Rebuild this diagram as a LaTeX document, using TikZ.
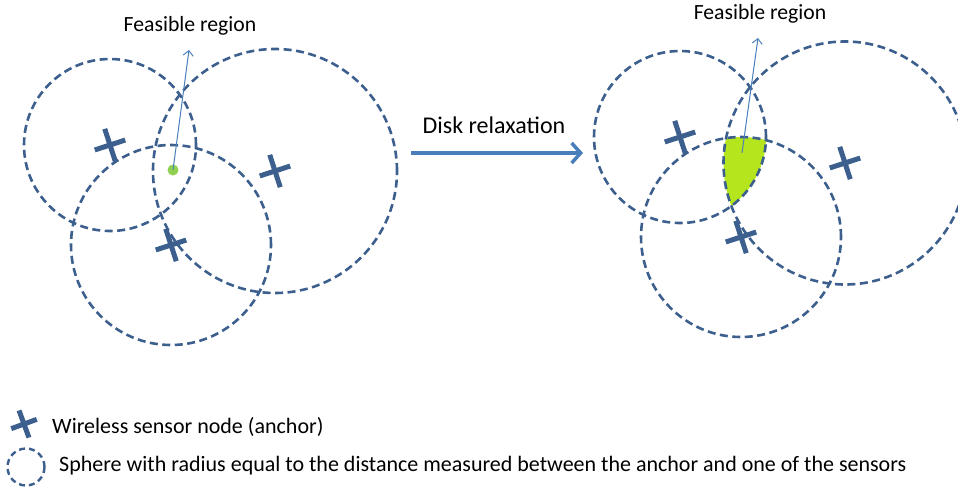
\documentclass[tikz,border=0pt]{standalone}
\usepackage{fontspec}
\setmainfont{Carlito}
\usetikzlibrary{arrows.meta}
\definecolor{ringblue}{HTML}{3C5F8D}
\definecolor{arrowblue}{HTML}{4A7EBB}
\definecolor{dotgreen}{HTML}{92D050}
\definecolor{regiongreen}{HTML}{B5E61D}
\begin{document}
\begin{tikzpicture}[x=1pt,y=-1pt,
  ring/.style={draw=ringblue, line width=2.6pt, dash pattern=on 8pt off 4.5pt},
  lbl/.style={font=\fontsize{21.7}{25}\selectfont, inner sep=0pt, anchor=base},
  legendtxt/.style={font=\fontsize{22}{26}\selectfont, inner sep=0pt, anchor=base west},
  pointer/.style={draw=arrowblue, line width=1pt, -{Straight Barb[length=5pt,width=10pt]}},
  bigarrow/.style={draw=arrowblue, line width=3.5pt, -{Straight Barb[length=9pt,width=20pt]}},
  anchormark/.pic={\draw[ringblue, line width=5pt] (-16,0) -- (16,0) (0,-17) -- (0,17);}
]
\useasboundingbox (0,0) rectangle (958,488);

% ---- before relaxation: anchors and their range circles
\coordinate (a1) at (110,145);
\coordinate (a2) at (275,171);
\coordinate (a3) at (171,245);
\draw[ring] (a1) circle[radius=86pt];
\draw[ring] (a2) circle[radius=122pt];
\draw[ring] (a3) circle[radius=100pt];
\pic[rotate=18] at (a1) {anchormark};
\pic[rotate=18] at (a2) {anchormark};
\pic[rotate=18] at (a3) {anchormark};
\node[circle, fill=dotgreen, inner sep=0pt, minimum size=11pt] (dot) at (173,170) {};
\node[lbl] (fl) at (190,31) {Feasible region};
\coordinate (fltip) at (189,50);
\draw[pointer] (dot.center) -- (fltip);

% ---- relaxation arrow
\node[lbl, font=\fontsize{24}{28}\selectfont] (relax) at (494,133) {Disk relaxation};
\coordinate (rs) at (411,153);
\coordinate (re) at (583,153);
\draw[bigarrow] (rs) -- (re);

% ---- after relaxation: intersection of the disks
\coordinate (b1) at (680,137);
\coordinate (b2) at (845,163);
\coordinate (b3) at (741,237);
\begin{scope}
  \clip (b1) circle[radius=86pt];
  \clip (b2) circle[radius=121.5pt];
  \fill[regiongreen] (b3) circle[radius=100pt];
\end{scope}
\draw[ring] (b1) circle[radius=86pt];
\draw[ring] (b2) circle[radius=121.5pt];
\draw[ring] (b3) circle[radius=100pt];
\pic[rotate=18] at (b1) {anchormark};
\pic[rotate=18] at (b2) {anchormark};
\pic[rotate=18] at (b3) {anchormark};
\coordinate (rg) at (742,153);
\node[lbl] (fr) at (760,19) {Feasible region};
\coordinate (frtip) at (758,38);
\draw[pointer] (rg) -- (frtip);

% ---- legend
\pic[rotate=20, scale=0.85] at (24,424) {anchormark};
\node[legendtxt] (l1) at (52,433) {Wireless sensor node (anchor)};
\coordinate (lc) at (26,467);
\draw[ring, line width=2.4pt, dash pattern=on 6pt off 4pt] (lc) circle[radius=18.5pt];
\node[legendtxt] (l2) at (59,471) {Sphere with radius equal to the distance measured between the anchor and one of the sensors};
\end{tikzpicture}
\end{document}
